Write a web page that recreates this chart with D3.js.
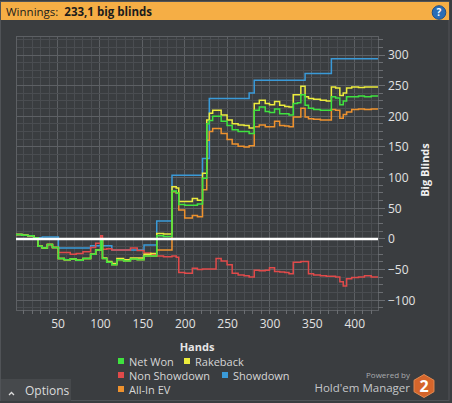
<!DOCTYPE html>
<html>
<head>
<meta charset="utf-8">
<script src="https://cdn.jsdelivr.net/npm/d3@7"></script>
<style>
  body { margin: 0; background: #3a3d40; }
  svg { display: block; font-family: "Open Sans", "Noto Sans", sans-serif; }
</style>
</head>
<body>
<svg id="chart" width="452" height="403"></svg>
<script>
// hand numbers where the graph changes
const hands = [1, 8, 15, 22, 27, 32, 38, 44, 51, 58, 65, 72, 80, 89, 95, 101, 103, 108, 114, 120,
  128, 136, 144, 152, 160, 167, 175, 185, 190, 193, 200, 209, 215, 221, 226, 229, 233, 237, 243, 250,
  256, 263, 270, 276, 282, 288, 295, 300, 306, 312, 318, 323, 328, 333, 337, 342, 346, 352, 360, 367,
  373, 378, 383, 387, 391, 397, 405, 412, 420, 428];

const netWon = [7, 6, 5, 2, -12, -15, -9, -14, -32, -34, -33, -35, -32, -25, -18, -3, -32, -38, -42, -34,
  -36, -33, -34, -28, -28, 5, 4, 78, 75, 56, 55, 55, 57, 99, 188, 193, 200, 200, 192, 185,
  178, 175, 175, 172, 210, 215, 208, 206, 212, 204, 204, 202, 221, 222, 235, 218, 213, 211, 210, 210,
  232, 230, 219, 225, 232, 232, 233, 232, 233, 233];

const rakeback = [7, 6, 5, 2, -12, -15, -9, -14, -32, -34, -33, -35, -32, -25, -18, -3, -31, -37, -40, -32,
  -34, -31, -31, -25, -24, 9, 8, 85, 83, 61, 61, 66, 63, 107, 194, 205, 210, 210, 202, 194,
  188, 186, 185, 181, 221, 226, 221, 219, 224, 218, 216, 215, 235, 235, 249, 232, 229, 228, 226, 225,
  248, 246, 234, 238, 246, 248, 247, 248, 248, 248];

const nonShowdown = [7, 6, 5, 2, -12, -15, -9, -14, -22, -22, -25, -24, -21, -14, -7, 5, -17, -16, -18, -18,
  -18, -15, -19, -23, -25, -28, -29, -28, -30, -55, -56, -48, -50, -49, -49, -49, -49, -32, -36, -42,
  -56, -59, -60, -62, -51, -52, -51, -47, -53, -54, -55, -57, -38, -38, -37, -37, -57, -59, -60, -61,
  -61, -62, -70, -77, -65, -63, -62, -60, -62, -62];

const showdown = [7, 6, 5, 2, 2, 3, 3, 3, -15, -15, -15, -15, -15, -11, -11, -11, -11, -11, -18, -18,
  -18, -18, -18, -10, -10, 29, 29, 104, 104, 104, 104, 104, 104, 131, 131, 229, 229, 229, 229, 229,
  229, 229, 229, 238, 259, 259, 259, 259, 259, 259, 259, 259, 259, 259, 259, 270, 270, 270, 270, 270,
  294, 294, 294, 294, 294, 294, 294, 294, 294, 294];

const allInEV = [7, 6, 5, 2, -12, -15, -9, -14, -32, -34, -33, -35, -32, -25, -18, -3, -32, -38, -42, -34,
  -36, -33, -34, -28, -28, -18, -18, 77, 75, 47, 34, 38, 36, 80, 161, 175, 180, 180, 172, 162,
  155, 151, 150, 152, 183, 186, 183, 183, 192, 185, 184, 183, 199, 199, 213, 199, 196, 195, 194, 194,
  211, 210, 197, 203, 207, 211, 212, 211, 212, 212];

const yTicks = [-100, -50, 0, 50, 100, 150, 200, 250, 300];
const xTicks = [50, 100, 150, 200, 250, 300, 350, 400];

const seriesNames = ['Net Won', 'Rakeback', 'Non Showdown', 'Showdown', 'All-In EV'];
const seriesColors = ['#3fe23f', '#ecec3c', '#e04a4a', '#3a9ad8', '#ee922e'];
const seriesValues = [netWon, rakeback, nonShowdown, showdown, allInEV];

const svg = d3.select('#chart');
const W = 452, H = 403;
const pLeft = 16, pRight = 378, pTop = 36, pBottom = 310;

// panel
svg.append('rect').attr('x', 0).attr('y', 0).attr('width', W).attr('height', H).attr('fill', '#3a3d40');
svg.append('rect').attr('x', 0.5).attr('y', 1.5).attr('width', 448.5).attr('height', 399)
  .attr('fill', 'none').attr('stroke', '#505357');

// header
svg.append('rect').attr('x', 1).attr('y', 2).attr('width', 448).attr('height', 18).attr('fill', '#f5ae45');
const title = svg.append('text').attr('x', 6).attr('y', 15.5).attr('font-size', 11.5).attr('fill', '#1c1c1c');
title.append('tspan').text('Winnings:\u00a0\u00a0');
title.append('tspan').attr('font-weight', 'bold').text('233,1 big blinds');

const help = svg.append('g').attr('transform', 'translate(439,12.5)');
help.append('circle').attr('r', 6.8).attr('fill', '#2a6db5').attr('stroke', '#1b4f8a');
help.append('text').attr('y', 3.5).attr('text-anchor', 'middle').attr('font-size', 10)
  .attr('font-weight', 'bold').attr('fill', '#fff').text('?');

const x = d3.scaleLinear().domain([1, 428]).range([pLeft, pRight]);
const y = d3.scaleLinear().domain([-116, 331]).range([pBottom, pTop]);

// grid
const grid = svg.append('g');
d3.range(10, 428, 10).forEach(v => {
  grid.append('line').attr('x1', x(v)).attr('x2', x(v)).attr('y1', pTop).attr('y2', pBottom)
    .attr('stroke', v % 50 === 0 ? '#5d6064' : '#4a4d51').attr('stroke-width', 1).attr('shape-rendering', 'crispEdges');
});
d3.range(-112.5, 331, 12.5).forEach(v => {
  grid.append('line').attr('x1', pLeft).attr('x2', pRight).attr('y1', y(v)).attr('y2', y(v))
    .attr('stroke', v % 50 === 0 ? '#5d6064' : '#4a4d51').attr('stroke-width', 1).attr('shape-rendering', 'crispEdges');
});
grid.append('rect').attr('x', pLeft).attr('y', pTop).attr('width', pRight - pLeft).attr('height', pBottom - pTop)
  .attr('fill', 'none').attr('stroke', '#5d6064').attr('shape-rendering', 'crispEdges');

// minor ticks outside
d3.range(-112.5, 331, 12.5).forEach(v => {
  svg.append('line').attr('x1', pRight).attr('x2', pRight + (v % 50 === 0 ? 7 : 5)).attr('y1', y(v)).attr('y2', y(v))
    .attr('stroke', '#6a6d71').attr('shape-rendering', 'crispEdges');
});
d3.range(10, 428, 10).forEach(v => {
  svg.append('line').attr('x1', x(v)).attr('x2', x(v)).attr('y1', pBottom).attr('y2', pBottom + 4)
    .attr('stroke', '#6a6d71').attr('shape-rendering', 'crispEdges');
});

// axes
const yAxis = svg.append('g').attr('transform', `translate(${pRight + 8},0)`)
  .call(d3.axisRight(y).tickValues(yTicks).tickSize(0).tickPadding(2));
const xAxis = svg.append('g').attr('transform', `translate(0,${pBottom + 4})`)
  .call(d3.axisBottom(x).tickValues(xTicks).tickSize(0).tickPadding(5));
[yAxis, xAxis].forEach(a => {
  a.select('.domain').remove();
  a.selectAll('text').attr('fill', '#e2e2e2').attr('font-size', 12).attr('font-family', '"Open Sans", sans-serif');
});

svg.append('text').attr('transform', 'translate(429,170) rotate(-90)').attr('text-anchor', 'middle')
  .attr('font-size', 11).attr('font-weight', 'bold').attr('fill', '#f0f0f0').text('Big Blinds');

// series
const line = vals => d3.line().x((d, i) => x(hands[i])).y(d => y(d)).curve(d3.curveStepAfter)(vals);
const order = [3, 2, 4, 1, 0];
const lines = svg.append('g');
order.forEach(k => {
  lines.append('path').attr('d', line(seriesValues[k])).attr('fill', 'none')
    .attr('stroke', seriesColors[k]).attr('stroke-width', 1.5);
});

svg.append('line').attr('x1', pLeft).attr('x2', pRight).attr('y1', y(0)).attr('y2', y(0))
  .attr('stroke', '#ffffff').attr('stroke-width', 2.5);

// legend
svg.append('text').attr('x', 197).attr('y', 351).attr('text-anchor', 'middle').attr('font-size', 11)
  .attr('font-weight', 'bold').attr('fill', '#e6e6e6').text('Hands');
const legendPos = [[118, 361], [184, 361], [118, 375], [222, 375], [118, 389]];
seriesNames.forEach((n, i) => {
  const g = svg.append('g').attr('transform', `translate(${legendPos[i][0]},${legendPos[i][1]})`);
  g.append('rect').attr('x', 0).attr('y', -3).attr('width', 6).attr('height', 6).attr('fill', seriesColors[i]);
  g.append('text').attr('x', 11).attr('y', 4.5).attr('font-size', 11).attr('fill', '#d6d6d6').text(n);
});

// options button
svg.append('rect').attr('x', 1).attr('y', 379).attr('width', 70).attr('height', 22).attr('fill', '#46494c');
svg.append('path').attr('d', 'M9,395 L11.5,392.5 L14,395').attr('fill', 'none').attr('stroke', '#dcdcdc').attr('stroke-width', 1.3);
svg.append('text').attr('x', 25).attr('y', 395).attr('font-size', 12).attr('fill', '#dcdcdc').text('Options');

// branding
svg.append('text').attr('x', 410).attr('y', 378).attr('text-anchor', 'end').attr('font-size', 8).attr('fill', '#a9abae').text('Powered by');
svg.append('text').attr('x', 410).attr('y', 392).attr('text-anchor', 'end').attr('font-size', 11.5).attr('fill', '#c4c6c8').text("Hold'em Manager");
const hex = d3.range(6).map(i => {
  const a = Math.PI / 3 * i - Math.PI / 2;
  return [424 + 11.5 * Math.cos(a), 386 + 11.5 * Math.sin(a)];
});
svg.append('polygon').attr('points', hex.map(p => p.join(',')).join(' ')).attr('fill', '#d5652b').attr('stroke', '#e58a50');
svg.append('text').attr('x', 424).attr('y', 392).attr('text-anchor', 'middle').attr('font-size', 16)
  .attr('font-weight', 'bold').attr('fill', '#ffffff').text('2');
</script>
</body>
</html>
